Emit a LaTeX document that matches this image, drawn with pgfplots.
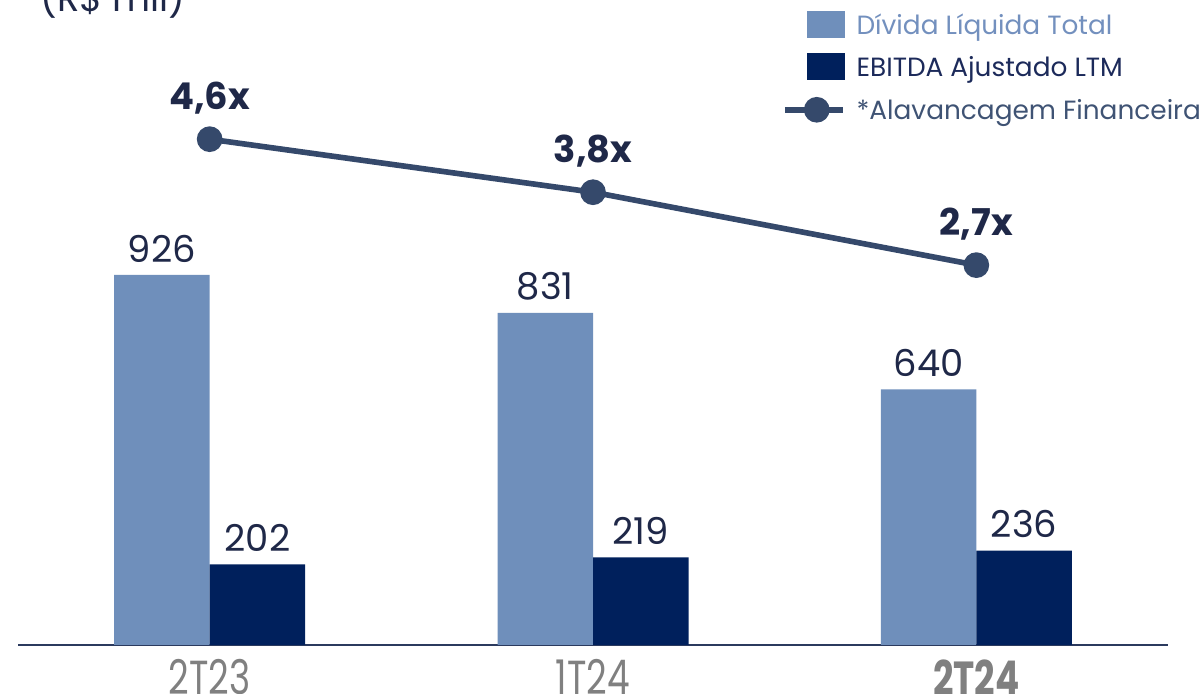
\documentclass[border=0pt]{standalone}
\usepackage{fontspec}
\setmainfont{Poppins}
\usepackage{graphicx}
\usepackage{pgfplots}
\pgfplotsset{compat=1.18}
\definecolor{lightbar}{HTML}{6F8FBB}
\definecolor{darkbar}{HTML}{00205C}
\definecolor{linecol}{HTML}{35496B}
\definecolor{labeltext}{HTML}{1F2848}
\definecolor{legone}{HTML}{7390BE}
\definecolor{legtwo}{HTML}{1C2A5A}
\definecolor{legthree}{HTML}{3F5374}
\definecolor{tickgray}{HTML}{808080}
\definecolor{axiscol}{HTML}{2B3A5E}
\pgfplotsset{
  sqlegend/.style={legend image code/.code={\fill[##1] (0cm,-0.135cm) rectangle (0.38cm,0.135cm);}},
  lnlegend/.style={legend image code/.code={%
    \draw[##1, mark=none] (-0.22cm,0cm) -- (0.36cm,0cm);
    \fill[linecol] (0.10cm,0cm) circle[radius=0.1cm];
    \path (0cm,-0.135cm) (0cm,0.135cm);}},
}
\begin{document}
\begin{tikzpicture}
\path[use as bounding box, clip] (0,0) rectangle (12.01cm,6.94cm);
\node[anchor=base west, text=labeltext, font=\fontsize{10.5}{12}\selectfont, inner sep=0] at (0.40cm,6.82cm) {(R\$ mil)};
\begin{axis}[
  at={(0.18cm,0.49cm)}, anchor=south west,
  scale only axis, width=11.5cm, height=6.45cm,
  xmin=-0.5, xmax=2.5, ymin=0, ymax=1614.2,
  clip=false,
  ybar=0pt, bar width=0.955cm,
  axis x line=bottom, axis y line=none,
  axis line style={draw=axiscol, line width=0.7pt, -},
  xtick={0,1,2},
  xticklabels={\scalebox{0.75}[1]{2T23},\scalebox{0.75}[1]{1T24},\scalebox{0.75}[1]{\bfseries 2T24}},
  major tick length=0pt, ytick=\empty,
  xticklabel style={font=\fontsize{13.6}{15}\selectfont, text=tickgray, anchor=north, inner sep=0pt, yshift=-0.14cm},
  /pgf/number format/assume math mode=true,
  nodes near coords,
  nodes near coords style={font=\fontsize{10.5}{12}\selectfont, text=labeltext, anchor=south, inner sep=0pt, yshift=0.12cm},
  legend cell align=left,
  legend style={at={(0.6643,0.9853)}, anchor=north west, draw=none, fill=none,
    inner sep=0pt, outer sep=0pt, row sep=0.12cm, column sep=0.11cm,
    font=\fontsize{7.5}{9}\selectfont,
    nodes={inner sep=0pt, text height=0.25cm, text depth=0.05cm}},
]
\addplot[fill=lightbar, draw=none, sqlegend]
  coordinates {(0,926) (1,831) (2,640)};
\addlegendentry{\textcolor{legone}{Dívida Líquida Total}}
\addplot[fill=darkbar, draw=none, sqlegend]
  coordinates {(0,202) (1,219) (2,236)};
\addlegendentry{\textcolor{legtwo}{EBITDA Ajustado LTM}}
\addlegendimage{draw=linecol, line width=1.6pt, lnlegend}
\addlegendentry{\textcolor{legthree}{*Alavancagem Financeira}}
\end{axis}
\begin{axis}[
  at={(0.18cm,0.49cm)}, anchor=south west,
  scale only axis, width=11.5cm, height=6.45cm,
  xmin=-0.5, xmax=2.5, ymin=-3.03, ymax=6.70,
  hide axis, clip=false,
]
\addplot[linecol, line width=1.6pt, mark=*, mark size=0.1cm, mark options={fill=linecol, draw=linecol},
  nodes near coords, point meta=explicit symbolic,
  nodes near coords style={font=\fontsize{10.5}{12}\selectfont\bfseries, text=labeltext, anchor=south, inner sep=0pt, yshift=0.22cm}]
  table[x=x, y=y, meta=lab, row sep=\\] {x y lab\\ 0 4.6 4,6x\\ 1 3.8 3,8x\\ 2 2.7 2,7x\\};
\end{axis}
\end{tikzpicture}
\end{document}
